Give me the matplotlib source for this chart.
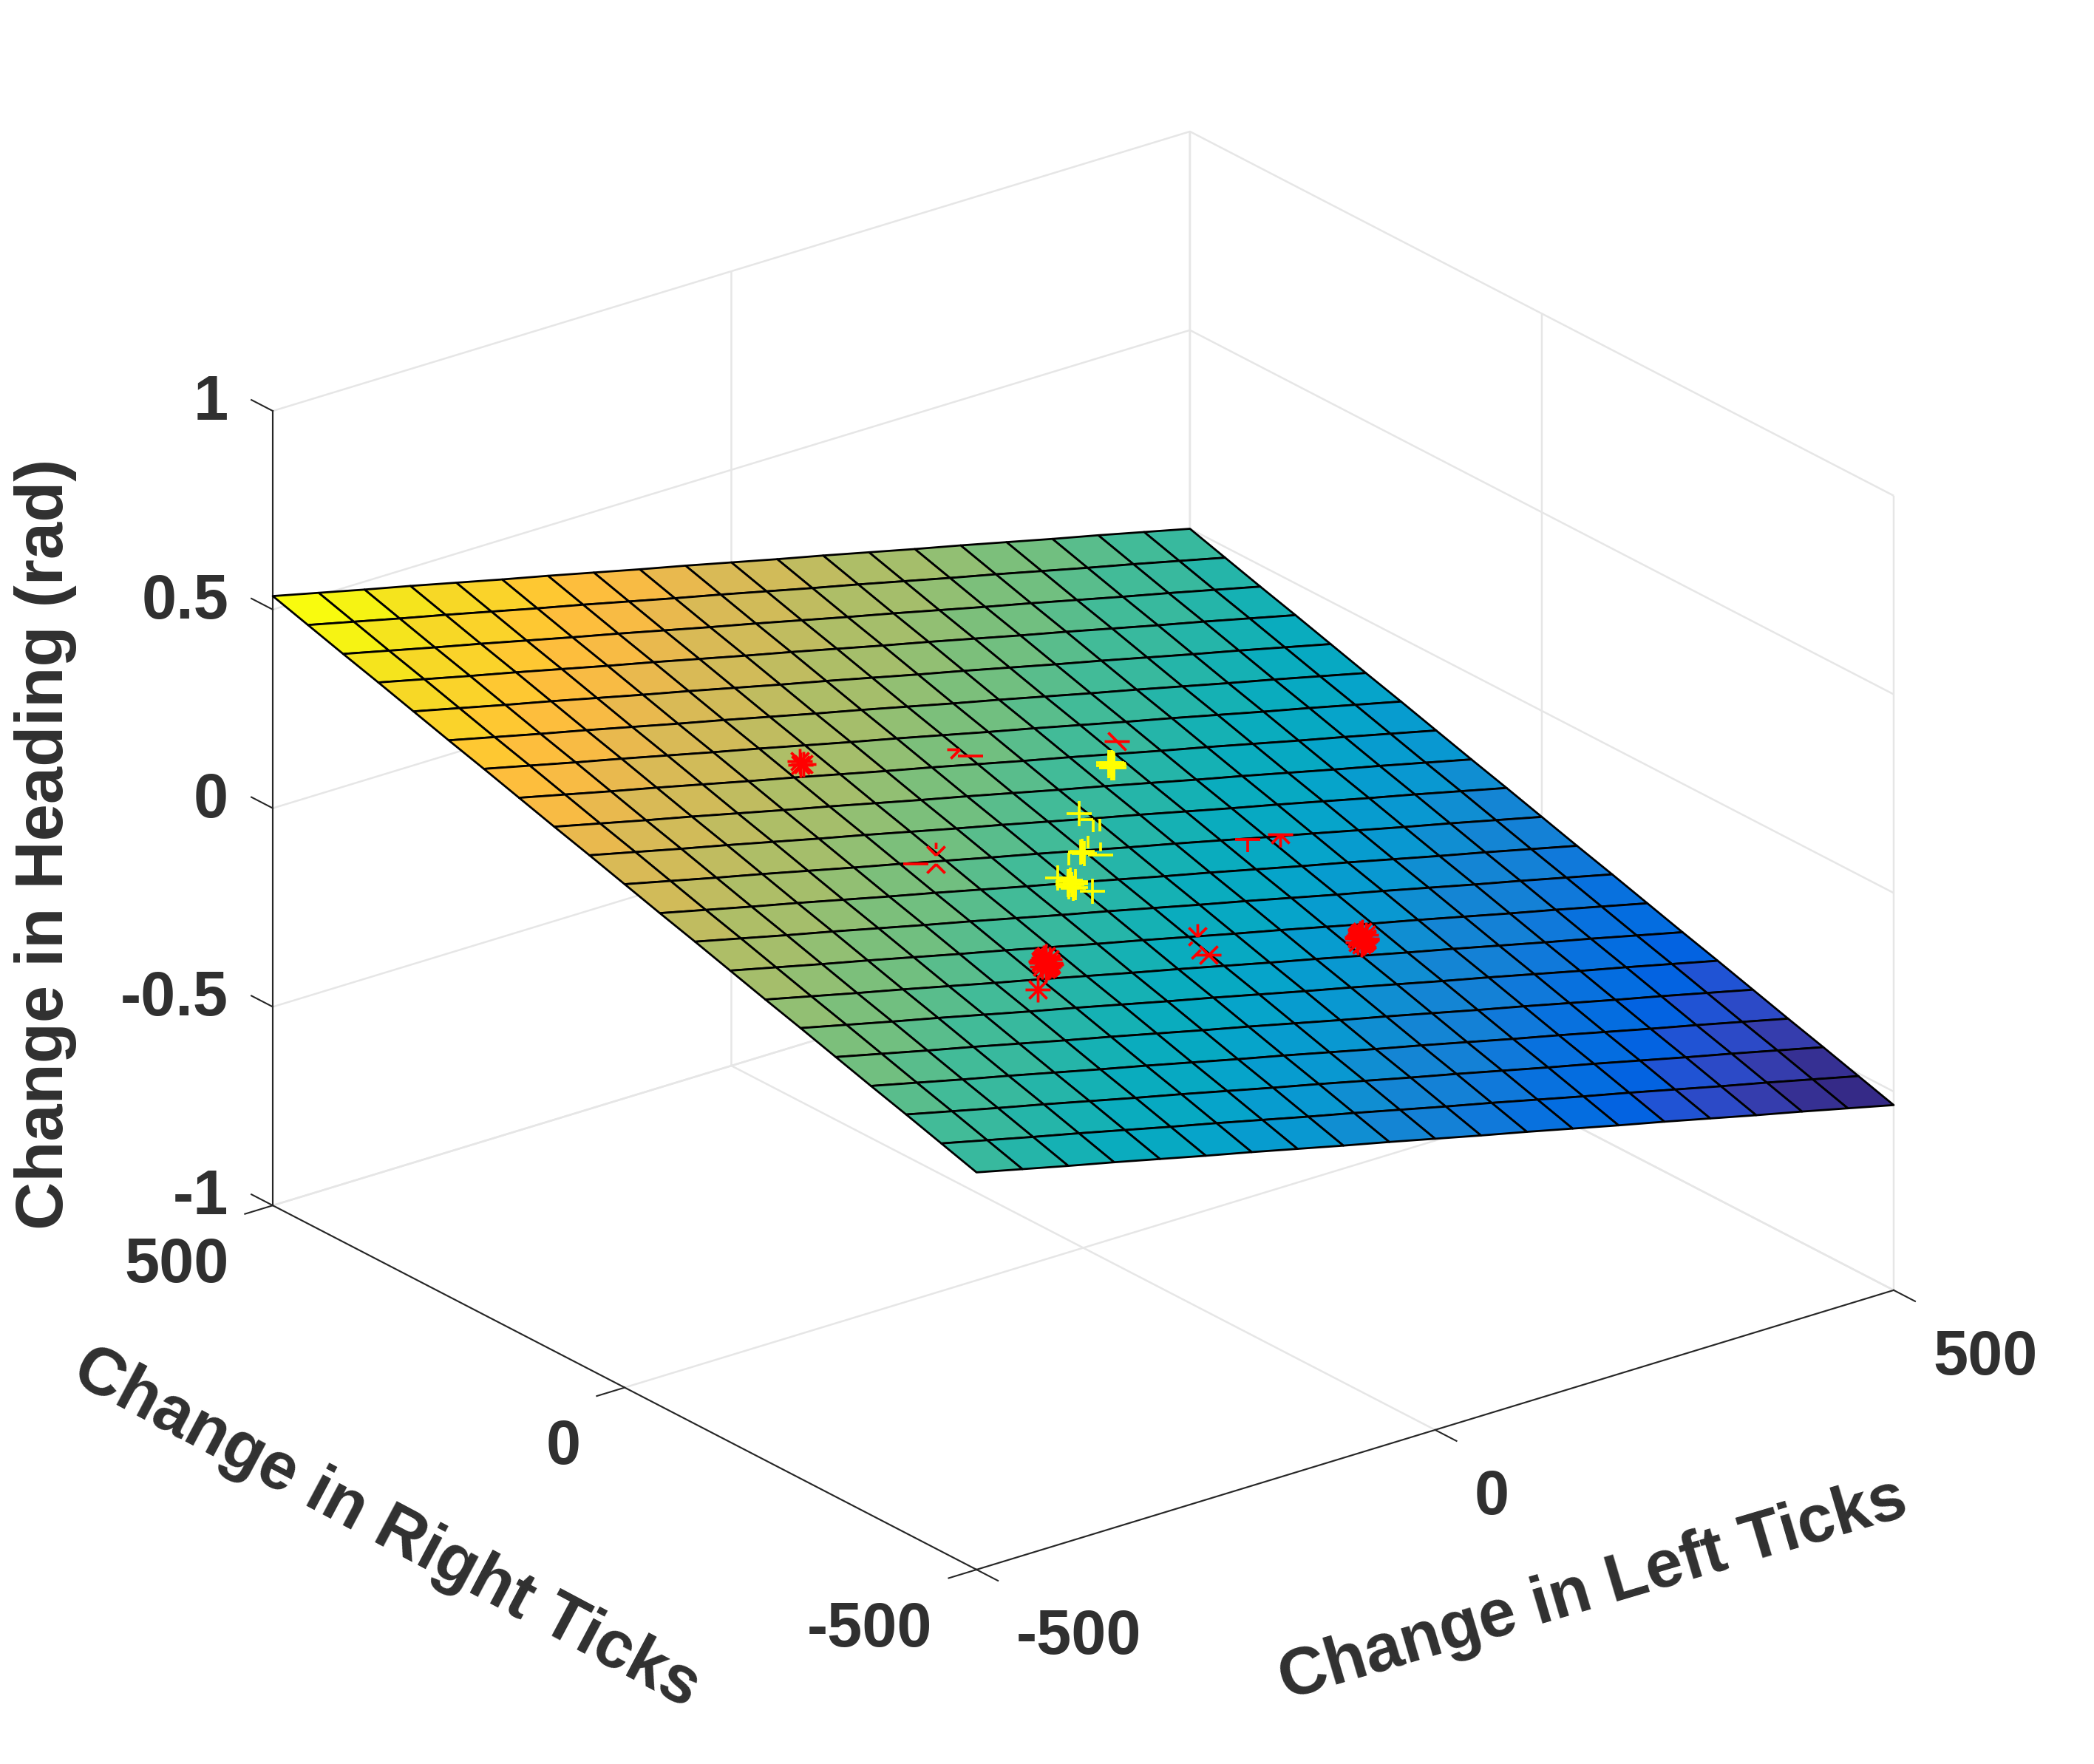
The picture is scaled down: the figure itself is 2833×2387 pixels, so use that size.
import numpy as np
import matplotlib
matplotlib.use("Agg")
import matplotlib.pyplot as plt
from matplotlib.colors import ListedColormap
from matplotlib.path import Path
from mpl_toolkits.mplot3d import proj3d

W, H = 2833, 2387
DARK = "#262626"
TEXT = "#303030"
GRID = "#e6e6e6"

plt.rcParams["font.family"] = ["Liberation Sans", "DejaVu Sans"]
plt.rcParams["font.weight"] = "bold"
plt.rcParams["grid.color"] = GRID
plt.rcParams["grid.linewidth"] = 1.8
plt.rcParams["axes.edgecolor"] = DARK
plt.rcParams["axes.linewidth"] = 1.5
plt.rcParams["xtick.color"] = DARK
plt.rcParams["ytick.color"] = DARK
plt.rcParams["xtick.major.width"] = 1.5
plt.rcParams["ytick.major.width"] = 1.5

# surface, split in what each wheel adds to the heading
left_ticks = [-500, -450, -400, -350, -300, -250, -200, -150, -100, -50, 0,
              50, 100, 150, 200, 250, 300, 350, 400, 450, 500]
right_ticks = left_ticks
heading_from_left = [0.267, 0.240, 0.213, 0.187, 0.160, 0.133, 0.107, 0.080, 0.053, 0.027, 0.0,
                     -0.027, -0.053, -0.080, -0.107, -0.133, -0.160, -0.187, -0.213, -0.240, -0.267]
heading_from_right = [-0.267, -0.240, -0.213, -0.187, -0.160, -0.133, -0.107, -0.080, -0.053, -0.027, 0.0,
                      0.027, 0.053, 0.080, 0.107, 0.133, 0.160, 0.187, 0.213, 0.240, 0.267]

# red stars: left, right, heading, visible arms (the rest is under the surface)
red_left = [-175, -175, -179, -1, 2, 166, -153, -184, -164,
            -175, -170, -180, -175, -175, -167, -183, -171, -179, -166, -184, -172, -178,
            -215, 9, -2, -4, 178, 216,
            171, 176, 166, 171, 171, 179, 163, 175, 167, 180, 162, 174, 168]
red_right = [175, 169, 169, 175, 163, 169, 10, -2, -4,
             -175, -175, -175, -170, -180, -165, -185, -167, -183, -169, -181, -178, -172,
             -216, -150, -181, -172, -2, 2,
             -173, -173, -173, -168, -178, -163, -183, -165, -181, -167, -179, -176, -170]
red_heading = [0.188, 0.185, 0.187, 0.095, 0.087, 0.003, 0.088, 0.098, 0.086,
               0.001, -0.002, 0.004, 0.004, -0.002, 0.002, 0.0, 0.003, -0.001, -0.001, 0.003, -0.002, 0.004,
               0.0, -0.084, -0.095, -0.089, -0.095, -0.113,
               -0.183, -0.186, -0.180, -0.180, -0.186, -0.182, -0.184, -0.181, -0.185, -0.185, -0.181, -0.186, -0.180]
red_arms = ["all", "all", "all", "W SW", "E W", "E W NW SE", "NW NE N:0.5", "E W", "SW SE",
            "all", "all", "all", "all", "all", "all", "all", "all", "all", "all", "all", "all", "all",
            "all", "N NE NW SW:0.6", "E W NE SW NW SE", "SW", "E W S", "E W S SW SE",
            "all", "all", "all", "all", "all", "all", "all", "all", "all", "all", "all", "all", "all"]

# yellow plus signs
yellow_left = [132, 135, 129, 132, 132, 135, 129, 136,
               40, 47, 55,
               -5, -2, -3, 7, 11, -17,
               -53, -49, -57, -53, -53, -50, -56, -47, -59, -59, -41]
yellow_right = [132, 132, 132, 136, 128, 136, 128, 135,
                58, 47, 48,
                -3, -1, -5, 2, -10, -2,
                -53, -53, -53, -48, -58, -47, -59, -50, -56, -41, -67]
yellow_heading = [0.001, 0.0, 0.002, 0.003, -0.001, 0.002, 0.0, 0.0,
                  0.011, 0.001, -0.003,
                  0.002, 0.001, -0.001, -0.002, -0.010, 0.009,
                  0.001, -0.001, 0.003, 0.004, -0.002, 0.004, -0.002, 0.0, 0.002, 0.011, -0.013]
yellow_arms = ["all", "all", "all", "all", "all", "all", "all", "all",
               "all", "W S", "S",
               "all", "all", "all", "N", "W E N:0.3", "E S",
               "all", "all", "all", "all", "all", "all", "all", "all", "all", "all", "all"]

x_ticks = [-500, 0, 500]
y_ticks = [-500, 0, 500]
z_ticks = [-1, -0.5, 0, 0.5, 1]
x_tick_labels = ["-500", "0", "500"]
y_tick_labels = ["-500", "0", "500"]
z_tick_labels = ["-1", "-0.5", "0", "0.5", "1"]

parula = [
    (0.2081, 0.1663, 0.5292), (0.2116, 0.1898, 0.5777), (0.2123, 0.2138, 0.6270), (0.2081, 0.2386, 0.6771),
    (0.1959, 0.2645, 0.7279), (0.1707, 0.2919, 0.7792), (0.1253, 0.3242, 0.8303), (0.0591, 0.3598, 0.8683),
    (0.0117, 0.3875, 0.8820), (0.0060, 0.4086, 0.8828), (0.0165, 0.4266, 0.8786), (0.0329, 0.4430, 0.8720),
    (0.0498, 0.4586, 0.8641), (0.0629, 0.4737, 0.8554), (0.0723, 0.4887, 0.8467), (0.0779, 0.5040, 0.8384),
    (0.0793, 0.5200, 0.8312), (0.0749, 0.5375, 0.8263), (0.0641, 0.5570, 0.8240), (0.0488, 0.5772, 0.8228),
    (0.0343, 0.5966, 0.8199), (0.0265, 0.6137, 0.8135), (0.0239, 0.6287, 0.8038), (0.0231, 0.6418, 0.7913),
    (0.0228, 0.6535, 0.7768), (0.0267, 0.6642, 0.7607), (0.0384, 0.6743, 0.7436), (0.0590, 0.6838, 0.7254),
    (0.0843, 0.6928, 0.7062), (0.1133, 0.7015, 0.6859), (0.1453, 0.7098, 0.6646), (0.1807, 0.7177, 0.6424),
    (0.2178, 0.7250, 0.6193), (0.2586, 0.7317, 0.5954), (0.3022, 0.7376, 0.5712), (0.3482, 0.7424, 0.5473),
    (0.3953, 0.7459, 0.5244), (0.4420, 0.7481, 0.5033), (0.4871, 0.7491, 0.4840), (0.5300, 0.7491, 0.4661),
    (0.5709, 0.7485, 0.4494), (0.6099, 0.7473, 0.4337), (0.6473, 0.7456, 0.4188), (0.6834, 0.7435, 0.4044),
    (0.7184, 0.7411, 0.3905), (0.7525, 0.7384, 0.3768), (0.7858, 0.7356, 0.3633), (0.8185, 0.7327, 0.3498),
    (0.8507, 0.7299, 0.3360), (0.8824, 0.7274, 0.3217), (0.9139, 0.7258, 0.3063), (0.9450, 0.7261, 0.2886),
    (0.9739, 0.7314, 0.2666), (0.9938, 0.7455, 0.2403), (0.9990, 0.7653, 0.2164), (0.9955, 0.7861, 0.1967),
    (0.9880, 0.8066, 0.1794), (0.9789, 0.8271, 0.1633), (0.9697, 0.8481, 0.1475), (0.9626, 0.8705, 0.1309),
    (0.9589, 0.8949, 0.1132), (0.9598, 0.9218, 0.0948), (0.9661, 0.9514, 0.0755), (0.9763, 0.9831, 0.0538),
]

DIRS = {"E": (1, 0), "W": (-1, 0), "N": (0, 1), "S": (0, -1),
        "NE": (0.71, 0.71), "NW": (-0.71, 0.71), "SE": (0.71, -0.71), "SW": (-0.71, -0.71)}


def arm_marker(arms, kind):
    # open path, the first moveto only keeps matplotlib's scaling the same for all
    if arms == "all":
        arms = "E W N S" if kind == "plus" else "E W N S NE NW SE SW"
    verts = [(1, 0)]
    codes = [Path.MOVETO]
    for arm in arms.split():
        name, _, start = arm.partition(":")
        dx, dy = DIRS[name]
        s = float(start) if start else 0.0
        verts += [(dx * s, dy * s), (dx, dy)]
        codes += [Path.MOVETO, Path.LINETO]
    return Path(verts, codes)


def place_marks(ax, xs, ys, zs, arms, kind, color, edge):
    for x, y, z, a in zip(xs, ys, zs, arms):
        ax.plot([x], [y], [z], linestyle="none", marker=arm_marker(a, kind), markersize=24.5,
                markerfacecolor="none", markeredgecolor=color, markeredgewidth=edge, zorder=5)


def tick_text(ax, x, y, z, s, ha):
    # projected by hand so the label is a plain 2d text
    px, py, _ = proj3d.proj_transform(x, y, z, ax.get_proj())
    ax.text2D(px, py, s, transform=ax.transData, fontsize=61, color=TEXT, ha=ha, va="center")


def main():
    fig = plt.figure(figsize=(W / 100, H / 100), dpi=100, facecolor="white")
    side = 2400
    ax = fig.add_axes([233.1 / W, 3.6 / H, side / W, side / H], projection="3d",
                      proj_type="ortho", computed_zorder=False)
    ax.view_init(elev=23.4, azim=-127.5)
    ax.set_box_aspect((1, 1, 0.749), zoom=1.0124)

    X, Y = np.meshgrid(left_ticks, right_ticks)
    Z = np.add.outer(heading_from_right, heading_from_left)
    ax.plot_surface(X, Y, Z, rstride=1, cstride=1, cmap=ListedColormap(parula), edgecolor="black",
                    linewidth=2.0, shade=False, antialiased=True, zorder=1)

    place_marks(ax, red_left, red_right, red_heading, red_arms, "star", "#ff0000", 2.7)
    place_marks(ax, yellow_left, yellow_right, yellow_heading, yellow_arms, "plus", "#ffff00", 2.7)

    ax.set_xlim(-500, 500, view_margin=0)
    ax.set_ylim(-500, 500, view_margin=0)
    ax.set_zlim(-1, 1, view_margin=0)
    ax.set_xticks(x_ticks)
    ax.set_yticks(y_ticks)
    ax.set_zticks(z_ticks)

    for axis in (ax.xaxis, ax.yaxis, ax.zaxis):
        axis.set_pane_color((1, 1, 1, 0))
        axis.pane.set_edgecolor(GRID)
        # labels are drawn below, switch the tick ones off
        for tick in axis.get_major_ticks():
            tick.label1.set_visible(False)
            tick.label2.set_visible(False)
    # x and y ticks point away from the box with the inward part here
    for axis in (ax.xaxis, ax.yaxis):
        axis._axinfo["tick"]["inward_factor"] = 0.38
        axis._axinfo["tick"]["outward_factor"] = 0
    # z ticks run along the y direction
    ax.zaxis._axinfo["tick"]["inward_factor"] = 0
    ax.zaxis._axinfo["tick"]["outward_factor"] = 0.38
    ax.zaxis._get_tickdir = lambda position: 1

    # tick labels sit off the axes edges, mplot3d would only move them along the tick
    for t, s in zip(x_ticks, x_tick_labels):
        tick_text(ax, t, -556, -1.120, s, "left")
    for t, s in zip(y_ticks, y_tick_labels):
        tick_text(ax, -548, t, -1.118, s, "right")
    for t, s in zip(z_ticks, z_tick_labels):
        tick_text(ax, -500, 563, t - 0.039, s, "right")

    fig.text(2155 / W, 1 - 2152 / H, "Change in Left Ticks", fontsize=65, color=TEXT,
             rotation=16.5, ha="center", va="center", rotation_mode="anchor")
    fig.text(523 / W, 1 - 2069 / H, "Change in Right Ticks", fontsize=65, color=TEXT,
             rotation=-28, ha="center", va="center", rotation_mode="anchor")
    fig.text(62 / W, 1 - 1142 / H, "Change in Heading (rad)", fontsize=65, color=TEXT,
             rotation=90, ha="center", va="center", rotation_mode="anchor")

    fig.savefig("out.png", dpi=100)


if __name__ == "__main__":
    main()
